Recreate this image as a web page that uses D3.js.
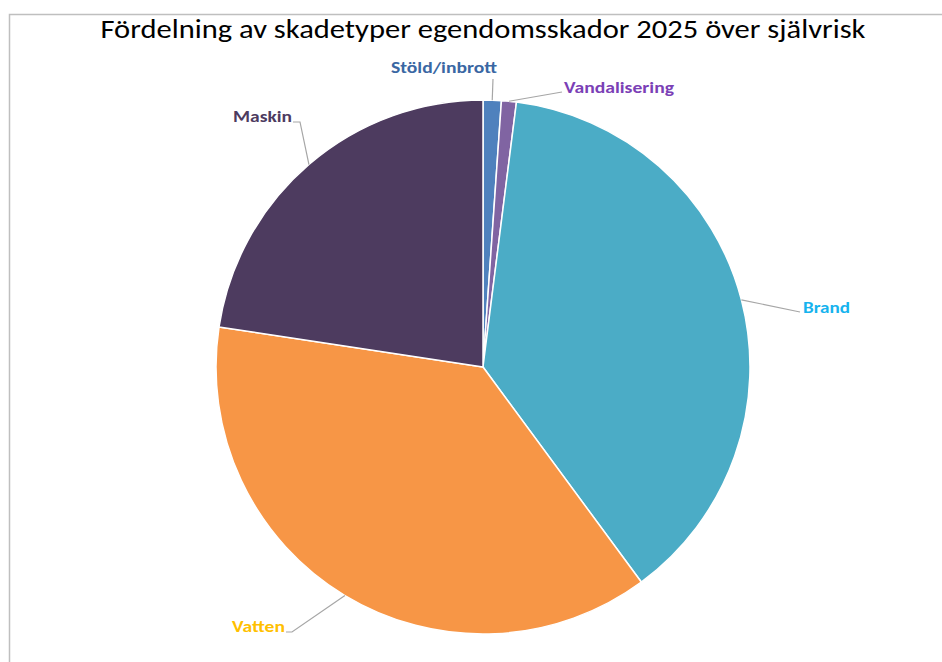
<!DOCTYPE html>
<html>
<head>
<meta charset="utf-8">
<script src="https://cdn.jsdelivr.net/npm/d3@7"></script>
<style>
  html, body { margin: 0; padding: 0; background: #fff; }
  svg { display: block; }
</style>
</head>
<body>
<svg id="chart" width="942" height="662"></svg>
<script>
// Data
const categories = ['Stöld/inbrott', 'Vandalisering', 'Brand', 'Vatten', 'Maskin'];
const shares = [1.1, 0.9, 37.9, 37.5, 22.6];
const sliceColors = ['#4f81bd', '#8064a2', '#4bacc6', '#f79646', '#4d3b5f'];
const labelColors = ['#3a67a3', '#7b3fb6', '#16b3ee', '#ffc000', '#4d3b5f'];
const title = 'Fördelning av skadetyper egendomsskador 2025 över självrisk';

/**
 * Visual configs.
 */
const cx = 483, cy = 367, radius = 267;

// Label placement relative to pie centre: elbow of leader, tail end, text anchor point
const labelLayout = [
    { elbow: [10, -288], tail: [10, -288], text: [-39, -294], anchor: 'middle', w: 106 },
    { elbow: [79, -275], tail: [79, -275], text: [81, -274], anchor: 'start', w: 110 },
    { elbow: [317, -55], tail: [317, -55], text: [320, -54], anchor: 'start', w: 47 },
    { elbow: [-191, 265], tail: [-197, 265], text: [-198, 265], anchor: 'end', w: 53 },
    { elbow: [-183, -245], tail: [-190, -245], text: [-191, -245], anchor: 'end', w: 59 }
];

const svg = d3.select('#chart');

// Chart area border
svg.append('rect')
    .attr('x', 9.5).attr('y', 14.5)
    .attr('width', 1000).attr('height', 700)
    .attr('fill', '#fff')
    .attr('stroke', '#bfbfbf')
    .attr('stroke-width', 1.5);

// Title
svg.append('text')
    .attr('x', cx).attr('y', 38)
    .attr('text-anchor', 'middle')
    .attr('font-family', 'Carlito, "Open Sans", sans-serif')
    .attr('font-size', 26)
    .attr('fill', '#000')
    .attr('textLength', 765)
    .attr('lengthAdjust', 'spacingAndGlyphs')
    .text(title);

const data = categories.map((c, i) => ({ name: c, value: shares[i], i: i }));

const pie = d3.pie().sort(null).value(d => d.value);
const arc = d3.arc().innerRadius(0).outerRadius(radius);
const arcs = pie(data);

const g = svg.append('g').attr('transform', 'translate(' + cx + ',' + cy + ')');

g.selectAll('path.slice').data(arcs).enter().append('path')
    .attr('class', 'slice')
    .attr('d', arc)
    .attr('fill', d => sliceColors[d.data.i])
    .attr('stroke', '#fff')
    .attr('stroke-width', 1.5)
    .attr('stroke-linejoin', 'round');

// Leader lines
g.selectAll('polyline.leader').data(arcs).enter().append('polyline')
    .attr('class', 'leader')
    .attr('points', d => {
        const mid = (d.startAngle + d.endAngle) / 2;
        const p0 = [radius * Math.sin(mid), -radius * Math.cos(mid)];
        const L = labelLayout[d.data.i];
        return [p0, L.elbow, L.tail].map(p => p.join(',')).join(' ');
    })
    .attr('fill', 'none')
    .attr('stroke', '#a6a6a6')
    .attr('stroke-width', 1.2);

// Labels
g.selectAll('text.label').data(arcs).enter().append('text')
    .attr('class', 'label')
    .attr('x', d => labelLayout[d.data.i].text[0])
    .attr('y', d => labelLayout[d.data.i].text[1])
    .attr('text-anchor', d => labelLayout[d.data.i].anchor)
    .attr('font-family', 'Carlito, "Open Sans", sans-serif')
    .attr('font-weight', 'bold')
    .attr('font-size', 15.5)
    .attr('fill', d => labelColors[d.data.i])
    .attr('textLength', d => labelLayout[d.data.i].w)
    .attr('lengthAdjust', 'spacingAndGlyphs')
    .text(d => d.data.name);
</script>
</body>
</html>
